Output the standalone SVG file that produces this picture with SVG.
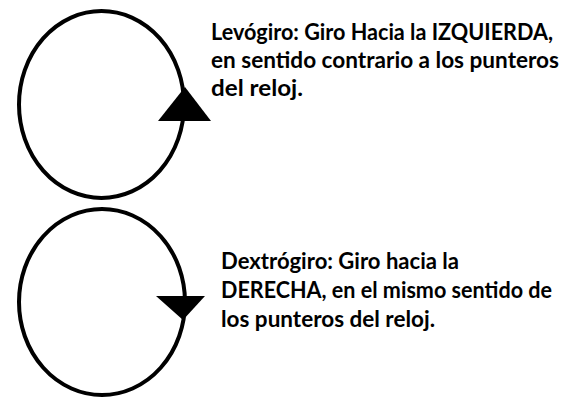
<svg xmlns="http://www.w3.org/2000/svg" width="573" height="410" viewBox="0 0 573 410">
  <style>
    .ring { fill: none; stroke: #000; stroke-width: 4; }
    .head { fill: #000; stroke: none; }
    .lbl { font-family: Lato, "Open Sans", "Liberation Sans", sans-serif; font-weight: bold; font-size: 22px; fill: #000; }
  </style>
  <rect x="0" y="0" width="573" height="410" fill="#fff"/>
  <g id="levogiro">
    <ellipse class="ring" cx="101.5" cy="104.5" rx="82.5" ry="93.5"/>
    <polygon class="head" points="185,87 158,121 211,121"/>
  </g>
  <g id="dextrogiro">
    <ellipse class="ring" cx="102" cy="302" rx="83" ry="93"/>
    <polygon class="head" points="156,296 205,296 183,320"/>
  </g>
  <g id="levogiro-label">
    <text class="lbl" x="211" y="40" textLength="342" lengthAdjust="spacingAndGlyphs">Levógiro: Giro Hacia la IZQUIERDA,</text>
    <text class="lbl" x="211" y="68" textLength="348" lengthAdjust="spacingAndGlyphs">en sentido contrario a los punteros</text>
    <text class="lbl" x="211" y="96" textLength="92" lengthAdjust="spacingAndGlyphs">del reloj.</text>
  </g>
  <g id="dextrogiro-label">
    <text class="lbl" x="221" y="269" textLength="238" lengthAdjust="spacingAndGlyphs">Dextrógiro: Giro hacia la</text>
    <text class="lbl" x="221" y="298" textLength="331" lengthAdjust="spacingAndGlyphs">DERECHA, en el mismo sentido de</text>
    <text class="lbl" x="221" y="327" textLength="214" lengthAdjust="spacingAndGlyphs">los punteros del reloj.</text>
  </g>
  <g id="connectors"></g>
</svg>
